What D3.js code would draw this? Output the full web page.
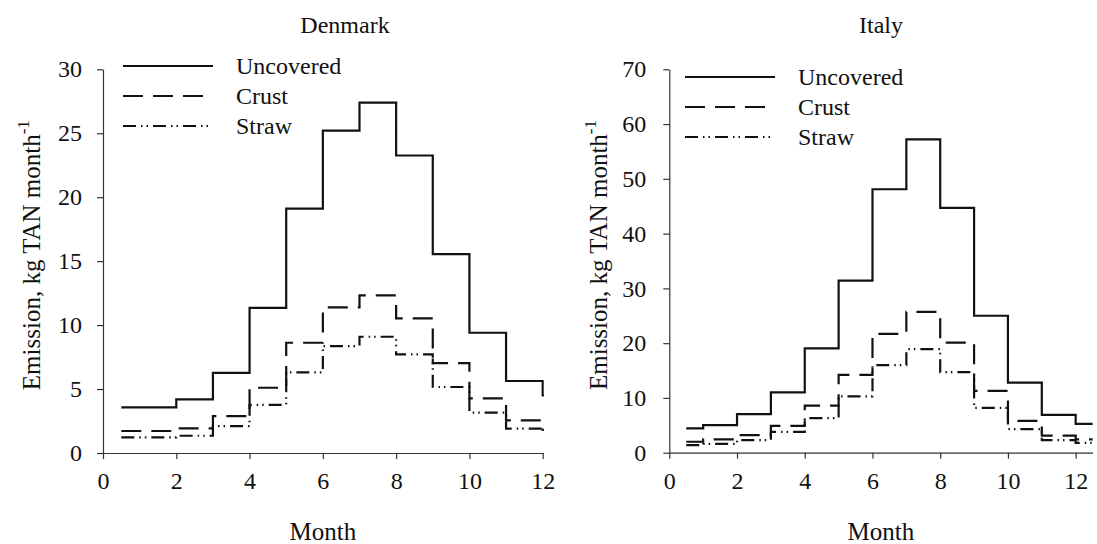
<!DOCTYPE html>
<html>
<head>
<meta charset="utf-8">
<script src="https://cdn.jsdelivr.net/npm/d3@7"></script>
<style>
  html, body { margin: 0; padding: 0; background: #fff; }
  svg { display: block; }
</style>
</head>
<body>
<svg id="chart" width="1097" height="544"></svg>
<script>
// Step edges (months); each series value holds between consecutive edges
const monthEdges = [0.5, 1, 2, 3, 4, 5, 6, 7, 8, 9, 10, 11, 12, 12.5];
const seriesNames = ["Uncovered", "Crust", "Straw"];

const denmarkUncovered = [3.57, 3.57, 4.19, 6.27, 11.35, 19.1, 25.2, 27.4, 23.26, 15.55, 9.4, 5.63, 4.5];
const denmarkCrust     = [1.72, 1.72, 1.93, 2.89, 5.1, 8.62, 11.38, 12.32, 10.52, 7.03, 4.27, 2.55, 1.8];
const denmarkStraw     = [1.22, 1.22, 1.35, 2.1, 3.77, 6.3, 8.36, 9.09, 7.71, 5.16, 3.15, 1.9, 1.8];

const italyUncovered = [4.45, 5.05, 7.06, 11.0, 19.05, 31.4, 48.1, 57.2, 44.7, 25.0, 12.8, 6.9, 5.25];
const italyCrust     = [2.0, 2.45, 3.2, 4.9, 8.6, 14.2, 21.7, 25.7, 20.1, 11.3, 5.8, 3.1, 2.45];
const italyStraw     = [1.4, 1.6, 2.3, 3.8, 6.3, 10.3, 16.0, 18.9, 14.7, 8.2, 4.3, 2.3, 1.8];

const xTicks = [0, 2, 4, 6, 8, 10, 12];
const denmarkYTicks = [0, 5, 10, 15, 20, 25, 30];
const italyYTicks = [0, 10, 20, 30, 40, 50, 60, 70];

const dashStyles = { Uncovered: null, Crust: "20,10", Straw: "13,5,1.5,4,1.5,5" };
const FONT = '"Liberation Serif"';

const panels = [
  { title: "Denmark", series: [denmarkUncovered, denmarkCrust, denmarkStraw],
    xDomain: [0, 12], xRange: [103, 542.7], yDomain: [0, 30], yRange: [453, 69.3], yTicks: denmarkYTicks,
    titleX: 345, ylabX: 40, legX: 123, legY: 66, tickPad: 15 },
  { title: "Italy", series: [italyUncovered, italyCrust, italyStraw],
    xDomain: [0, 12.5], xRange: [669.3, 1092.6], yDomain: [0, 70], yRange: [452.7, 69.3], yTicks: italyYTicks,
    titleX: 881, ylabX: 607, legX: 685, legY: 77, tickPad: 17 }
];

const svg = d3.select("#chart");

panels.forEach((p, pi) => {
  const x = d3.scaleLinear().domain(p.xDomain).range(p.xRange);
  const y = d3.scaleLinear().domain(p.yDomain).range(p.yRange);
  const g = svg.append("g");

  const clipId = "clip" + pi;
  svg.append("clipPath").attr("id", clipId).append("rect")
    .attr("x", p.xRange[0]).attr("y", p.yRange[1] - 10)
    .attr("width", p.xRange[1] - p.xRange[0] + 1.2)
    .attr("height", p.yRange[0] - p.yRange[1] + 10);

  const xAxis = d3.axisBottom(x).tickValues(xTicks).tickSize(6).tickPadding(13).tickSizeOuter(0);
  const yAxis = d3.axisLeft(y).tickValues(p.yTicks).tickSize(6).tickPadding(p.tickPad).tickSizeOuter(0);

  const gx = g.append("g").attr("transform", `translate(0,${p.yRange[0]})`).call(xAxis);
  const gy = g.append("g").attr("transform", `translate(${p.xRange[0]},0)`).call(yAxis);
  [gx, gy].forEach(a => {
    a.attr("font-family", null).attr("font-size", null);
    a.selectAll("path, line").attr("stroke", "#333").attr("stroke-width", 1.2);
    a.selectAll("text").style("font-size", "24px").attr("fill", "#111");
  });

  const line = d3.line().x(d => x(d[0])).y(d => y(d[1])).curve(d3.curveStepAfter);
  p.series.forEach((vals, si) => {
    const pts = monthEdges.map((e, i) => [e, i < vals.length ? vals[i] : vals[vals.length - 1]]);
    g.append("path")
      .attr("d", line(pts))
      .attr("fill", "none")
      .attr("stroke", "#111")
      .attr("stroke-width", 2.2)
      .attr("stroke-dasharray", dashStyles[seriesNames[si]])
      .attr("clip-path", `url(#${clipId})`);
  });

  seriesNames.forEach((name, i) => {
    const ly = p.legY + i * 30;
    g.append("line").attr("x1", p.legX).attr("x2", p.legX + 90)
      .attr("y1", ly).attr("y2", ly)
      .attr("stroke", "#111").attr("stroke-width", 2.2)
      .attr("stroke-dasharray", dashStyles[name]);
    g.append("text").attr("x", p.legX + 113).attr("y", ly + 8)
      .style("font-size", "24px").text(name);
  });

  g.append("text").attr("x", p.titleX).attr("y", 33)
    .attr("text-anchor", "middle").style("font-size", "24px").text(p.title);

  g.append("text").attr("x", (p.xRange[0] + p.xRange[1]) / 2).attr("y", 540)
    .attr("text-anchor", "middle").style("font-size", "25px").text("Month");

  const yc = (p.yRange[0] + p.yRange[1]) / 2 - 6;
  const yl = g.append("text")
    .attr("transform", `translate(${p.ylabX},${yc}) rotate(-90)`)
    .attr("text-anchor", "middle").style("font-size", "25px");
  yl.append("tspan").text("Emission, kg TAN month");
  yl.append("tspan").attr("dy", -11).style("font-size", "17px").text("-1");
});

svg.selectAll("text").style("font-family", FONT).style("fill", "#111");
</script>
</body>
</html>
